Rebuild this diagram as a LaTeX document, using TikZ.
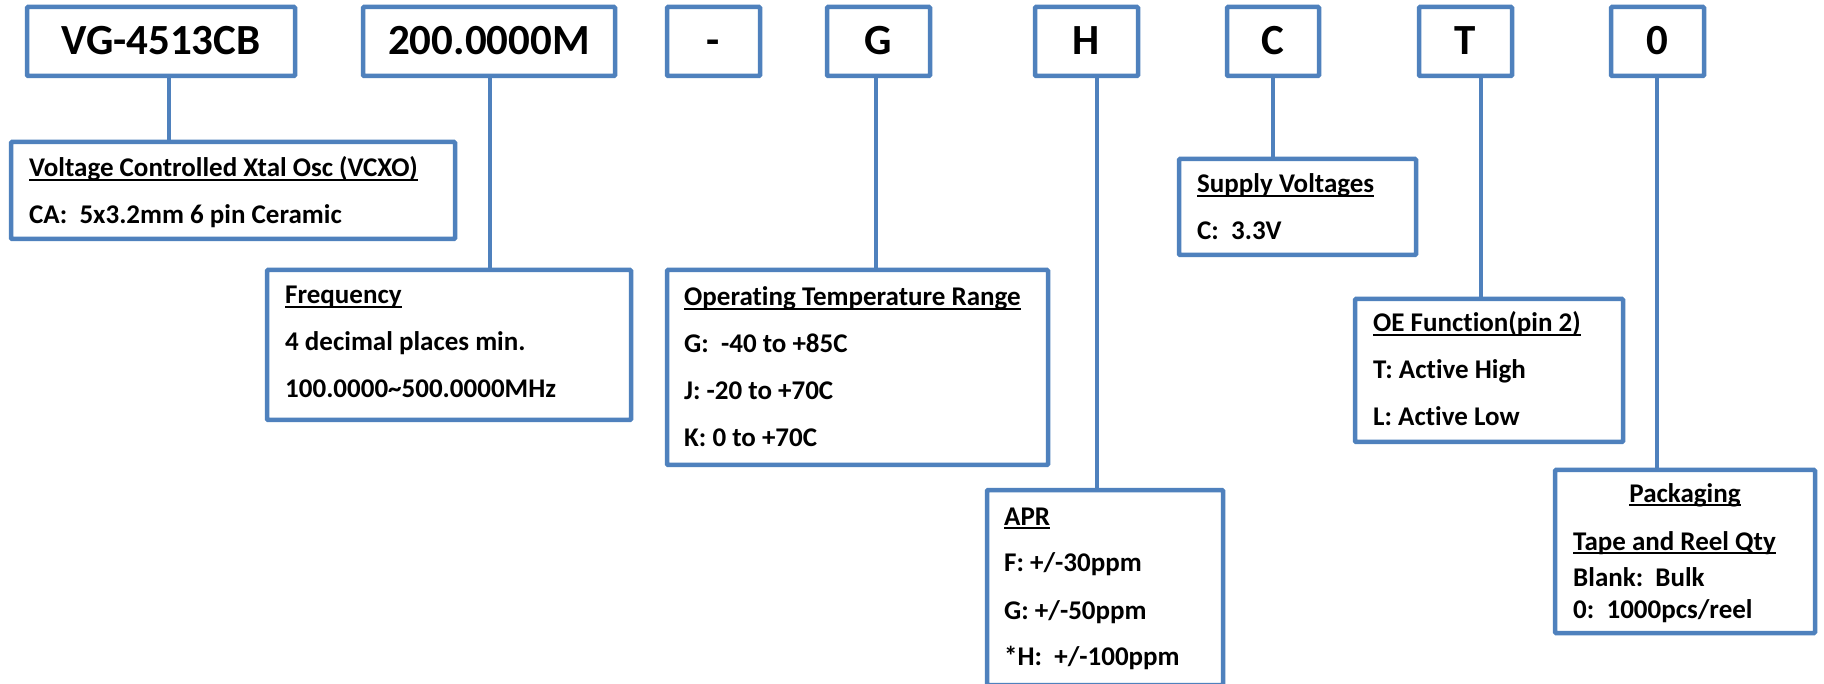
\documentclass[tikz,border=0pt]{standalone}
\usepackage{fontspec}
\setmainfont{Carlito}[Ligatures=NoCommon]
\usepackage{xcolor}
\definecolor{boxblue}{HTML}{4F81BD}
\newsavebox{\ulbox}
\newcommand{\uln}[1]{\sbox{\ulbox}{#1}\rlap{\rule[-3.6pt]{\wd\ulbox}{1.5pt}}\usebox{\ulbox}}
\newcommand{\lines}[1]{\begin{tabular}[t]{@{}l@{}}#1\end{tabular}}

\begin{document}
\begin{tikzpicture}[x=1pt,y=-1pt,
  box/.style={draw=boxblue,line width=4.5pt,rounded corners=1pt,fill=white,inner sep=0pt,outer sep=0pt},
  code/.style={box,minimum height=69pt,font=\fontsize{43}{50}\selectfont\bfseries,text height=27pt,text depth=0pt},
  panel/.style={box,anchor=north west},
  info/.style={anchor=base west,inner sep=0pt,font=\fontsize{27}{47}\selectfont\bfseries},
  wire/.style={draw=boxblue,line width=4.5pt}]
\fill[white] (0,0) rectangle (1824,684);
\useasboundingbox (0,0) rectangle (1824,684);

% part number
\node[code,minimum width=268pt] (vg)   at (161,41.5)    {VG-4513CB};
\node[code,minimum width=252pt] (fr)   at (489,41.5)    {200.0000M};
\node[code,minimum width=93pt]  (dash) at (713.5,41.5)  {-};
\node[code,minimum width=103pt] (tc)   at (878.5,41.5)  {G};
\node[code,minimum width=103pt] (ap)   at (1086.5,41.5) {H};
\node[code,minimum width=92pt]  (sv)   at (1273,41.5)   {C};
\node[code,minimum width=93pt]  (oe)   at (1465.5,41.5) {T};
\node[code,minimum width=93pt]  (pk)   at (1657.5,41.5) {0};

% descriptions
\node[panel,minimum width=444pt,minimum height=97pt]  (vgBox) at (11,142)   {};
\node[panel,minimum width=364pt,minimum height=150pt] (frBox) at (267,270)  {};
\node[panel,minimum width=381pt,minimum height=195pt] (tcBox) at (667,270)  {};
\node[panel,minimum width=236pt,minimum height=195pt] (apBox) at (987,490)  {};
\node[panel,minimum width=237pt,minimum height=96pt]  (svBox) at (1179,159) {};
\node[panel,minimum width=268pt,minimum height=143pt] (oeBox) at (1355,299) {};
\node[panel,minimum width=260pt,minimum height=163pt] (pkBox) at (1555,470) {};

\coordinate (xvg) at (169,0);
\coordinate (xfr) at (490,0);
\coordinate (xtc) at (876,0);
\coordinate (xap) at (1097,0);
\coordinate (xsv) at (1273,0);
\coordinate (xoe) at (1481,0);
\coordinate (xpk) at (1657,0);
\foreach \a in {vg,fr,tc,ap,sv,oe,pk}
  \draw[wire] (\a.south -| x\a) -- (\a Box.north -| x\a);

\node[info] (vgTxt) at ([shift={(18,35)}]vgBox.north west)
  {\lines{\uln{Voltage Controlled Xtal Osc (VCXO)}\\CA:\ \ 5x3.2mm 6 pin Ceramic}};
\node[info] (frTxt) at ([shift={(18,34)}]frBox.north west)
  {\lines{\uln{Frequency}\\4 decimal places min.\\100.0000\textasciitilde500.0000MHz}};
\node[info] (tcTxt) at ([shift={(17,36)}]tcBox.north west)
  {\lines{\uln{Operating Temperature Range}\\G:\ \ -40 to +85C\\J: -20 to +70C\\K: 0 to +70C}};
\node[info] (apTxt) at ([shift={(17,35)}]apBox.north west)
  {\lines{\uln{APR}\\F: +/-30ppm\\G: +/-50ppm\\{*}H:\ \ +/-100ppm}};
\node[info] (svTxt) at ([shift={(18,34)}]svBox.north west)
  {\lines{\uln{Supply Voltages}\\C:\ \ 3.3V}};
\node[info] (oeTxt) at ([shift={(18,33)}]oeBox.north west)
  {\lines{\uln{OE Function(pin 2)}\\T: Active High\\L: Active Low}};
\node[info,anchor=base] (pkHead) at ([shift={(0,32)}]pkBox.north) {\uln{Packaging}};
\node[info] (pkTxt) at ([shift={(18,80)}]pkBox.north west)
  {\lines{\uln{Tape and Reel Qty}\\[-11pt]Blank:\ \ Bulk\\[-15pt]0:\ \ 1000pcs/reel}};
\end{tikzpicture}
\end{document}
